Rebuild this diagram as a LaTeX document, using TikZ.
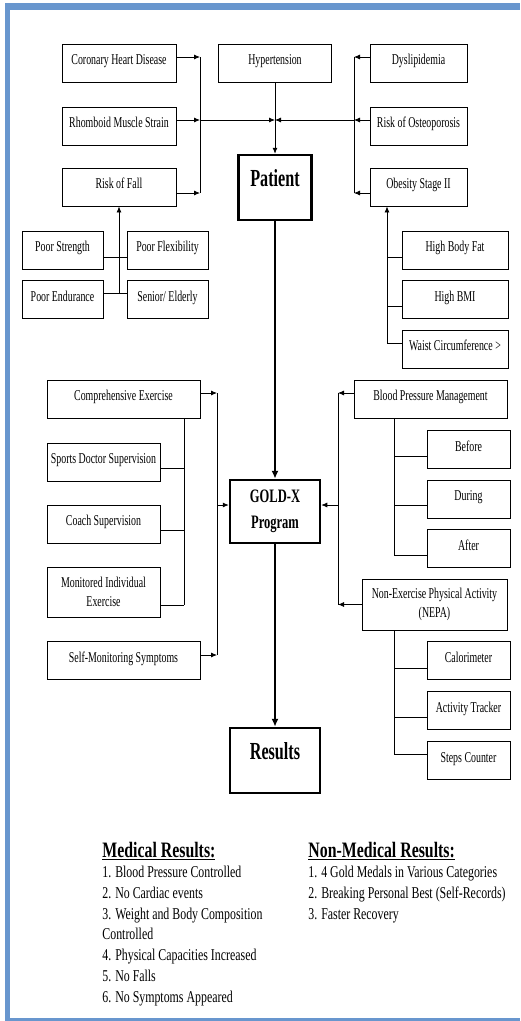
\documentclass[tikz,border=0pt]{standalone}
\usepackage{fontspec}
\setmainfont{Liberation Serif}
\newfontfamily\boxfont[FakeStretch=0.66]{Liberation Serif}
\newfontfamily\listfont[FakeStretch=0.72]{Liberation Serif}
\usetikzlibrary{positioning,arrows.meta}
\definecolor{marco}{RGB}{104,150,206}

\begin{document}
\begin{tikzpicture}[x=1pt,y=-1pt,on grid,
    >={Latex[length=6pt,width=5pt]},line width=0.8pt,
    boxtwo/.style={rectangle,draw,line width=0.8pt,minimum height=38pt,inner sep=2pt,
                   align=center,font=\boxfont\fontsize{15}{19}\selectfont},
    box/.style={boxtwo,text height=8pt,text depth=5pt},
    core/.style={rectangle,draw,line width=2.5pt,inner sep=2pt,
                 font=\boxfont\bfseries\fontsize{24.5}{26}\selectfont},
    thick arrow/.style={->,line width=1.6pt,>={Latex[length=8pt,width=7pt]}}]
  \useasboundingbox (0,0) rectangle (520,1021);
  %% frame
  \fill[marco] (5,3) rectangle (520,10);
  \fill[marco] (5,3) rectangle (10,1021);
  \fill[marco] (5,1018) rectangle (520,1020.5);

  %% risk factors
  \node [box,minimum width=113pt] (hyper) at (275,63) {Hypertension};
  \node [box,minimum width=114pt] (chd)   [left=156pt of hyper] {Coronary Heart Disease};
  \node [box,minimum width=97pt]  (dysl)  [right=143.5pt of hyper] {Dyslipidemia};
  \node [box,minimum width=114pt] (rhom)  [below=63pt of chd] {Rhomboid Muscle Strain};
  \node [box,minimum width=114pt] (fall)  [below=61pt of rhom] {Risk of Fall};
  \node [box,minimum width=97pt]  (osteo) [below=63pt of dysl] {Risk of Osteoporosis};
  \node [box,minimum width=97pt]  (obes)  [below=61pt of osteo] {Obesity Stage II};
  \node [core,minimum width=73pt,minimum height=65pt,text height=16pt,text depth=18pt]
        (patient) [below=124.5pt of hyper] {Patient};

  \node [box,minimum width=81pt] (strength) [below left=63pt and 56.5pt of fall] {Poor Strength};
  \node [box,minimum width=81pt] (flex)     [right=105pt of strength] {Poor Flexibility};
  \node [box,minimum width=81pt] (endur)    [below=49.5pt of strength] {Poor Endurance};
  \node [box,minimum width=81pt] (senior)   [right=105pt of endur] {Senior/ Elderly};

  \node [box,minimum width=106pt] (hbf)   [below right=63pt and 36.5pt of obes] {High Body Fat};
  \node [box,minimum width=106pt] (bmi)   [below=49.5pt of hbf] {High BMI};
  \node [box,minimum width=106pt] (waist) [below=49.5pt of bmi] {Waist Circumference >};

  \coordinate (lbus) at (200,0);
  \coordinate (rbus) at (354,0);
  \coordinate (obus) at (387,0);
  \draw[->] ([yshift=6pt]chd.east) -- ([yshift=6pt]chd.east -| lbus);
  \draw[->] ([yshift=6pt]rhom.east) -- ([yshift=6pt]rhom.east -| lbus);
  \draw[->] ([yshift=-6pt]fall.east) -- ([yshift=-6pt]fall.east -| lbus);
  \draw ([yshift=6pt]chd.east -| lbus) -- ([yshift=-6pt]fall.east -| lbus);
  \draw[->] ([yshift=6pt]rhom.east -| lbus) -- ([yshift=6pt]rhom.east -| hyper.south);
  \draw[->] ([yshift=6pt]dysl.west) -- ([yshift=6pt]dysl.west -| rbus);
  \draw[->] ([yshift=6pt]osteo.west) -- ([yshift=6pt]osteo.west -| rbus);
  \draw[->] ([yshift=-6pt]obes.west) -- ([yshift=-6pt]obes.west -| rbus);
  \draw ([yshift=6pt]dysl.west -| rbus) -- ([yshift=-6pt]obes.west -| rbus);
  \draw[->] ([yshift=6pt]osteo.west -| rbus) -- ([yshift=6pt]osteo.west -| hyper.south);
  \draw[->] (hyper) -- (patient);

  \draw ([yshift=-7pt]strength.east) -- ([yshift=-7pt]flex.west);
  \draw ([yshift=6.5pt]endur.east) -- ([yshift=6.5pt]senior.west);
  \draw[->] ([yshift=6.5pt]endur.east -| fall.south) -- (fall.south);

  \draw ([yshift=-7pt]hbf.west) -- ([yshift=-7pt]hbf.west -| obus);
  \draw ([yshift=-7pt]bmi.west) -- ([yshift=-7pt]bmi.west -| obus);
  \draw ([yshift=6pt]waist.west) -- ([yshift=6pt]waist.west -| obus);
  \draw[->] ([yshift=6pt]waist.west -| obus) -- (obes.south -| obus);

  %% program
  \node [core,minimum width=90pt,minimum height=63pt,font=\boxfont\bfseries\fontsize{19}{26}\selectfont,align=center]
        (goldx) [below=324pt of patient] {GOLD-X\\Program};
  \node [core,minimum width=90pt,minimum height=65pt,text height=16pt,text depth=19pt]
        (results) [below=249pt of goldx] {Results};
  \draw[thick arrow] (patient) -- (goldx);
  \draw[thick arrow] (goldx) -- (results);

  \node [box,minimum width=153pt] (comp)   at (123.5,399) {Comprehensive Exercise};
  \node [box,minimum width=113pt] (sports) [below left=63pt and 20pt of comp] {Sports Doctor Supervision};
  \node [box,minimum width=113pt] (coach)  [below=62pt of sports] {Coach Supervision};
  \node [boxtwo,minimum width=113pt,minimum height=50pt] (mon) [below=68pt of coach] {Monitored Individual\\Exercise};
  \node [box,minimum width=153pt] (self)   [below right=68.5pt and 20pt of mon] {Self-Monitoring Symptoms};

  \coordinate (ebus) at (184,0);
  \coordinate (pbus) at (217,0);
  \draw (comp.south -| ebus) -- ([yshift=-13pt]mon.east -| ebus);
  \draw ([yshift=-6pt]sports.east) -- ([yshift=-6pt]sports.east -| ebus);
  \draw ([yshift=-6pt]coach.east) -- ([yshift=-6pt]coach.east -| ebus);
  \draw ([yshift=-13pt]mon.east) -- ([yshift=-13pt]mon.east -| ebus);
  \draw[->] ([yshift=6pt]comp.east) -- ([yshift=6pt]comp.east -| pbus);
  \draw[->] ([yshift=5.5pt]self.east) -- ([yshift=5.5pt]self.east -| pbus);
  \draw ([yshift=6pt]comp.east -| pbus) -- ([yshift=5.5pt]self.east -| pbus);
  \draw[->] ([yshift=6.5pt]goldx.west -| pbus) -- ([yshift=6.5pt]goldx.west);

  \node [box,minimum width=153pt] (bpm)    at (430.5,399) {Blood Pressure Management};
  \node [box,minimum width=83pt]  (before) [below right=50.5pt and 38pt of bpm] {Before};
  \node [box,minimum width=83pt]  (during) [below=49.5pt of before] {During};
  \node [box,minimum width=83pt]  (after)  [below=49.5pt of during] {After};
  \node [boxtwo,minimum width=145pt,minimum height=51pt] (nepa) [below right=205.5pt and 4pt of bpm] {Non-Exercise Physical Activity\\(NEPA)};
  \node [box,minimum width=83pt]  (cal)    [below right=56pt and 34pt of nepa] {Calorimeter};
  \node [box,minimum width=83pt]  (track)  [below=50pt of cal] {Activity Tracker};
  \node [box,minimum width=83pt]  (steps)  [below=50pt of track] {Steps Counter};

  \coordinate (qbus) at (338,0);
  \coordinate (mbus) at (394,0);
  \draw[->] ([yshift=6pt]bpm.west) -- ([yshift=6pt]bpm.west -| qbus);
  \draw[->] (nepa.west) -- (nepa.west -| qbus);
  \draw ([yshift=6pt]bpm.west -| qbus) -- (nepa.west -| qbus);
  \draw[->] ([yshift=6.5pt]goldx.east -| qbus) -- ([yshift=6.5pt]goldx.east);
  \draw (bpm.south -| mbus) -- ([yshift=-6.5pt]after.west -| mbus);
  \draw ([yshift=-6.5pt]before.west) -- ([yshift=-6.5pt]before.west -| mbus);
  \draw ([yshift=-6pt]during.west) -- ([yshift=-6pt]during.west -| mbus);
  \draw ([yshift=-6.5pt]after.west) -- ([yshift=-6.5pt]after.west -| mbus);
  \draw (nepa.south -| mbus) -- ([yshift=6.5pt]steps.west -| mbus);
  \draw ([yshift=-7.5pt]cal.west) -- ([yshift=-7.5pt]cal.west -| mbus);
  \draw ([yshift=-6.5pt]track.west) -- ([yshift=-6.5pt]track.west -| mbus);
  \draw ([yshift=6.5pt]steps.west) -- ([yshift=6.5pt]steps.west -| mbus);

  %% results lists
  \node [anchor=base west,inner sep=0,font=\listfont\bfseries\fontsize{22}{26}\selectfont]
        (medhead) at (102,857) {\underline{Medical Results:}};
  \node [anchor=north west,inner sep=0,align=left,font=\listfont\fontsize{16.5}{20.7}\selectfont]
        (medlist) at (102,866) {1. Blood Pressure Controlled\\2. No Cardiac events\\3. Weight and Body Composition\\Controlled\\4. Physical Capacities Increased\\5. No Falls\\6. No Symptoms Appeared};
  \node [anchor=base west,inner sep=0,font=\listfont\bfseries\fontsize{22}{26}\selectfont]
        (nonhead) at (308,857) {\underline{Non-Medical Results:}};
  \node [anchor=north west,inner sep=0,align=left,font=\listfont\fontsize{16.5}{20.7}\selectfont]
        (nonlist) at (308,866) {1. 4 Gold Medals in Various Categories\\2. Breaking Personal Best (Self-Records)\\3. Faster Recovery};
\end{tikzpicture}
\end{document}
